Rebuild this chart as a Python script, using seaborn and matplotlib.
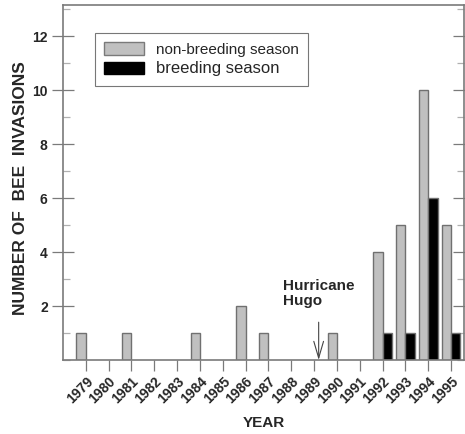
import matplotlib
matplotlib.use("Agg")
import matplotlib.pyplot as plt
import seaborn as sns
import pandas as pd
from matplotlib.patches import Patch
from matplotlib.ticker import MultipleLocator

years = [str(y) for y in range(1979, 1996)]
non_breeding = [1, 0, 1, 0, 0, 1, 0, 2, 1, 0, 0, 1, 0, 4, 5, 10, 5]
breeding = [0, 0, 0, 0, 0, 0, 0, 0, 0, 0, 0, 0, 0, 1, 1, 6, 1]
seasons = ["non-breeding season", "breeding season"]
y_ticks = [2, 4, 6, 8, 10, 12]

rows = []
for y, nb, b in zip(years, non_breeding, breeding):
    if nb > 0:
        rows.append({"year": y, "season": seasons[0], "count": nb})
    if b > 0:
        rows.append({"year": y, "season": seasons[1], "count": b})
df = pd.DataFrame(rows)

sns.set_style("white")
plt.rcParams["font.family"] = ["Liberation Sans", "DejaVu Sans"]

fig = plt.figure(figsize=(4.65, 4.34), dpi=100)
ax = fig.add_axes([0.1355, 0.1705, 0.863, 0.818])

palette = {seasons[0]: "#c0c0c0", seasons[1]: "#000000"}
sns.barplot(data=df, x="year", y="count", hue="season", order=years,
            hue_order=seasons, palette=palette, width=0.82, dodge=True,
            edgecolor="#707070", linewidth=1.0, saturation=1, ax=ax,
            legend=False, errorbar=None)

ax.set_xlim(-1, 16.58)
ax.set_ylim(0, 13.15)

ax.set_yticks(y_ticks)
ax.set_yticklabels([str(v) for v in y_ticks], fontweight="bold", fontsize=10)
ax.yaxis.set_minor_locator(MultipleLocator(1))
ax.tick_params(axis="y", which="major", direction="inout", length=16, width=0.9,
               color="#7a7a7a", right=True, left=True, pad=3)
ax.tick_params(axis="y", which="minor", direction="in", length=5, width=0.9,
               color="#b0b0b0", right=True, left=True)
ax.tick_params(axis="x", which="major", direction="out", length=8, width=0.9,
               color="#7a7a7a", bottom=True, pad=2)
ax.set_xticks(range(len(years)))
ax.set_xticklabels(years, rotation=45, ha="right", rotation_mode="anchor",
                   fontweight="bold", fontsize=10)

for s in ax.spines.values():
    s.set_color("#7a7a7a")
    s.set_linewidth(1.2)

ax.set_xlabel("YEAR", fontweight="bold", fontsize=11)
ax.xaxis.set_label_coords(0.5, -0.158)
ax.set_ylabel("NUMBER OF  BEE  INVASIONS", fontweight="bold", fontsize=12.5)
ax.yaxis.set_label_coords(-0.088, 0.485)

handles = [Patch(facecolor="#c0c0c0", edgecolor="#7a7a7a", label=seasons[0]),
           Patch(facecolor="#000000", edgecolor="#000000", label=seasons[1])]
leg = ax.legend(handles=handles, loc="upper left", bbox_to_anchor=(0.08, 0.921),
                frameon=True, fancybox=False, edgecolor="#555555", fontsize=11,
                handlelength=2.6, handleheight=0.9, borderpad=0.6,
                labelspacing=0.3, handletextpad=0.8, borderaxespad=0)
leg.get_frame().set_linewidth(0.8)
leg.get_texts()[1].set_fontsize(12)

ax.text(8.64, 3.0, "Hurricane\nHugo", fontweight="bold", fontsize=11,
        ha="left", va="top", linespacing=1.1)
ax.annotate("", xy=(10.2, 0.0), xytext=(10.2, 1.4),
            arrowprops=dict(arrowstyle="->,head_length=1.2,head_width=0.35",
                            color="#444444", lw=0.8, shrinkA=0, shrinkB=0))

fig.savefig("out.png", dpi=100)
